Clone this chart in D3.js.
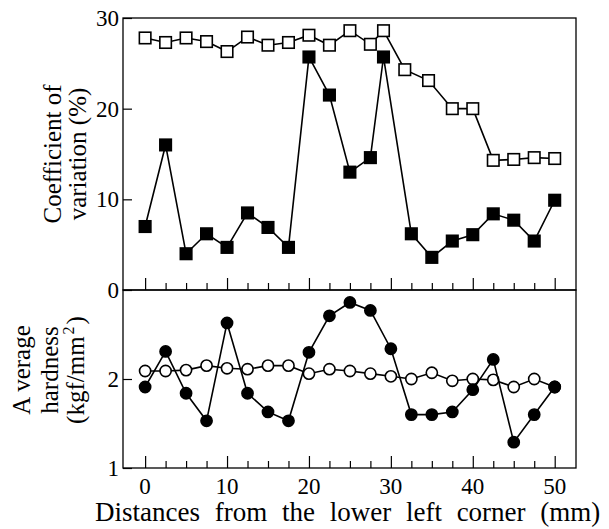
<!DOCTYPE html>
<html>
<head>
<meta charset="utf-8">
<script src="https://cdn.jsdelivr.net/npm/d3@7"></script>
<style>
  html, body { margin: 0; padding: 0; background: #fff; }
</style>
</head>
<body>
<svg id="chart" width="609" height="529" font-family="'Liberation Serif', 'Times New Roman', Times, serif"></svg>
<script>
// Coefficient of variation (%) – open squares / filled squares
const cvOpenDist   = [0, 2.5, 5, 7.5, 10, 12.5, 15, 17.5, 20, 22.5, 25, 27.5, 29.1, 31.7, 34.6, 37.5, 40, 42.5, 45, 47.5, 50];
const cvOpen       = [27.8, 27.3, 27.8, 27.4, 26.3, 27.9, 27.0, 27.3, 28.1, 27.0, 28.6, 27.1, 28.6, 24.3, 23.1, 20.0, 20.0, 14.3, 14.4, 14.6, 14.5];
const cvFilledDist = [0, 2.5, 5, 7.5, 10, 12.5, 15, 17.5, 20, 22.5, 25, 27.5, 29.1, 32.5, 35, 37.5, 40, 42.5, 45, 47.5, 50];
const cvFilled     = [7.0, 16.0, 4.0, 6.2, 4.7, 8.5, 6.9, 4.7, 25.7, 21.5, 13.0, 14.6, 25.7, 6.2, 3.6, 5.4, 6.1, 8.4, 7.7, 5.4, 9.9];

// Average hardness (kgf/mm²) – open circles / filled circles
const hardDist     = [0, 2.5, 5, 7.5, 10, 12.5, 15, 17.5, 20, 22.5, 25, 27.5, 30, 32.5, 35, 37.5, 40, 42.5, 45, 47.5, 50];
const hardOpen     = [2.09, 2.09, 2.10, 2.15, 2.12, 2.11, 2.15, 2.15, 2.06, 2.11, 2.09, 2.06, 2.03, 2.00, 2.07, 1.98, 2.00, 1.99, 1.91, 2.00, 1.91];
const hardFilled   = [1.91, 2.31, 1.84, 1.53, 2.63, 1.84, 1.63, 1.53, 2.30, 2.71, 2.86, 2.77, 2.34, 1.60, 1.60, 1.63, 1.88, 2.22, 1.29, 1.60, 1.91];

// Axis ticks
const xMajorTicks  = [0, 10, 20, 30, 40, 50];
const xMinorTicks  = [2.5, 5, 7.5, 12.5, 15, 17.5, 22.5, 25, 27.5, 32.5, 35, 37.5, 42.5, 45, 47.5];
const cvTicks      = [30, 20, 10, 0];
const hardTicks    = [2, 1];

const FONT = "'Liberation Serif', 'Times New Roman', Times, serif";
const svg = d3.select("#chart");

const pLeft = 123, pRight = 576, pTop = 18, pMid = 290, pBottom = 468;

const x = d3.scaleLinear().domain([-2.7, 52.6]).range([pLeft, pRight]);
const yCv = d3.scaleLinear().domain([0, 30]).range([pMid, pTop]);
const yHard = d3.scaleLinear().domain([1, 3]).range([pBottom, pMid]);

// frames
const frame = svg.append("g").attr("fill", "none").attr("stroke", "#000").attr("stroke-width", 1.3);
frame.append("rect").attr("x", pLeft).attr("y", pTop).attr("width", pRight - pLeft).attr("height", pMid - pTop);
frame.append("rect").attr("x", pLeft).attr("y", pMid).attr("width", pRight - pLeft).attr("height", pBottom - pMid);

// inward x ticks along the bottom of each panel
function xTicks(yBase) {
  const g = svg.append("g");
  const ax = d3.axisTop(x).tickValues(xMajorTicks).tickSize(12).tickFormat("");
  g.append("g").attr("transform", `translate(0,${yBase})`).call(ax);
  const axm = d3.axisTop(x).tickValues(xMinorTicks).tickSize(7).tickFormat("");
  g.append("g").attr("transform", `translate(0,${yBase})`).call(axm);
  g.selectAll(".domain").remove();
  g.selectAll("line").attr("stroke", "#000").attr("stroke-width", 1.2);
}
xTicks(pMid);
xTicks(pBottom);

const labels = svg.append("g").attr("font-family", FONT).attr("fill", "#000");

// x tick labels
labels.append("g").selectAll("text").data(xMajorTicks).join("text")
  .attr("x", d => x(d)).attr("y", 494)
  .attr("text-anchor", "middle").attr("font-size", 23)
  .text(d => d);

// y ticks (inward) and labels, top panel
const yAxCv = svg.append("g").attr("transform", `translate(${pLeft},0)`)
  .call(d3.axisRight(yCv).tickValues(cvTicks).tickSize(9).tickFormat(""));
yAxCv.select(".domain").remove();
yAxCv.selectAll("line").attr("stroke", "#000").attr("stroke-width", 1.2);

labels.append("g").selectAll("text").data(cvTicks).join("text")
  .attr("x", 119).attr("y", d => yCv(d)).attr("dy", "0.35em")
  .attr("text-anchor", "end").attr("font-size", 23)
  .text(d => d);

// y ticks and labels, bottom panel
const yAxH = svg.append("g").attr("transform", `translate(${pLeft},0)`)
  .call(d3.axisRight(yHard).tickValues(hardTicks).tickSize(9).tickFormat(""));
yAxH.select(".domain").remove();
yAxH.selectAll("line").attr("stroke", "#000").attr("stroke-width", 1.2);

labels.append("g").selectAll("text").data(hardTicks).join("text")
  .attr("x", 119).attr("y", d => yHard(d)).attr("dy", "0.35em")
  .attr("text-anchor", "end").attr("font-size", 23)
  .text(d => d);

// axis titles
const cvTitle = labels.append("text").attr("font-size", 25).attr("text-anchor", "middle")
  .attr("transform", `translate(0,${(pTop + pMid) / 2}) rotate(-90)`);
cvTitle.append("tspan").attr("x", 0).attr("y", 61).text("Coefficient of");
cvTitle.append("tspan").attr("x", 0).attr("y", 86).text("variation (%)");

const hTitle = labels.append("text").attr("font-size", 25).attr("text-anchor", "middle")
  .attr("transform", `translate(0,370) rotate(-90)`);
hTitle.append("tspan").attr("x", 0).attr("y", 30).text("A verage");
hTitle.append("tspan").attr("x", 0).attr("y", 58).text("hardness");
const l3 = hTitle.append("tspan").attr("x", 0).attr("y", 84);
l3.append("tspan").text("(kgf/mm");
l3.append("tspan").attr("font-size", 16).attr("dy", -10).attr("dx", 2).text("2");
l3.append("tspan").attr("dy", 10).attr("dx", 2).text(")");

labels.append("text").attr("x", 95).attr("y", 521).attr("font-size", 27)
  .attr("word-spacing", 8)
  .text("Distances from the lower left corner (mm)");

// series drawing helpers
function series(dists, vals, yScale) {
  return dists.map((d, i) => [x(d), yScale(vals[i])]);
}
const line = d3.line();

function drawSquares(pts, filled) {
  const g = svg.append("g");
  g.append("path").attr("d", line(pts)).attr("fill", "none").attr("stroke", "#000").attr("stroke-width", 1.6);
  const s = 11.5;
  g.selectAll("rect").data(pts).join("rect")
    .attr("x", d => d[0] - s / 2).attr("y", d => d[1] - s / 2)
    .attr("width", s).attr("height", s)
    .attr("fill", filled ? "#000" : "#fff").attr("stroke", "#000").attr("stroke-width", 1.6);
}
function drawCircles(pts, filled) {
  const g = svg.append("g");
  g.append("path").attr("d", line(pts)).attr("fill", "none").attr("stroke", "#000").attr("stroke-width", 1.6);
  g.selectAll("circle").data(pts).join("circle")
    .attr("cx", d => d[0]).attr("cy", d => d[1]).attr("r", 5.6)
    .attr("fill", filled ? "#000" : "#fff").attr("stroke", "#000").attr("stroke-width", 1.6);
}

drawSquares(series(cvOpenDist, cvOpen, yCv), false);
drawSquares(series(cvFilledDist, cvFilled, yCv), true);
drawCircles(series(hardDist, hardOpen, yHard), false);
drawCircles(series(hardDist, hardFilled, yHard), true);
</script>
</body>
</html>
